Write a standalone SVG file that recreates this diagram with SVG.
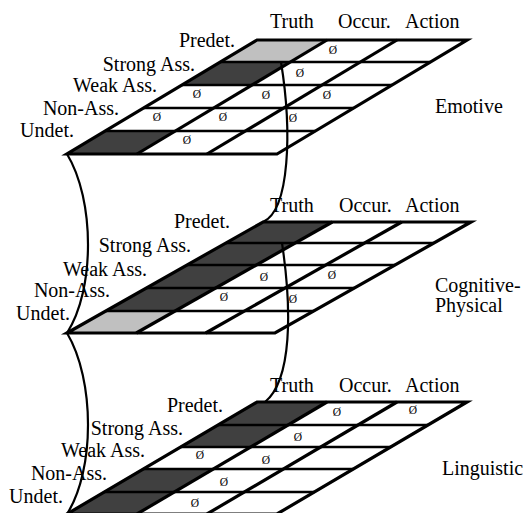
<svg xmlns="http://www.w3.org/2000/svg" width="528" height="513" viewBox="0 0 528 513">
<style>
.bg{fill:#ffffff}
.frame{fill:none;stroke:#000;stroke-width:3.2;stroke-linejoin:miter}
.h{stroke:#000;stroke-width:2.7;fill:none}
.d{stroke:#000;stroke-width:3.2;fill:none}
.dk{fill:#404040;stroke:none}
.lt{fill:#c0c0c0;stroke:none}
.cv{fill:none;stroke:#000;stroke-width:2.2}
text{font-family:"Liberation Serif","Times New Roman",serif;fill:#000}
.lab{font-size:20px}
.row{font-size:20px;text-anchor:end}
.e{font-size:11.5px;text-anchor:middle}
</style>
<rect class="bg" x="0" y="0" width="528" height="513"/>

<g id="emotive">
  <polygon class="lt" points="257,40 327,40 290.3,62 220.3,62"/>
  <polygon class="dk" points="220.3,62 290.3,62 252,85 182,85"/>
  <polygon class="dk" points="105.3,131 175.3,131 137,154 67,154"/>
  <line class="h" x1="220.3" y1="62" x2="430.3" y2="62"/>
  <line class="h" x1="182" y1="85" x2="392" y2="85"/>
  <line class="h" x1="143.7" y1="108" x2="353.7" y2="108"/>
  <line class="h" x1="105.3" y1="131" x2="315.3" y2="131"/>
  <line class="d" x1="327" y1="40" x2="137" y2="154"/>
  <line class="d" x1="397" y1="40" x2="207" y2="154"/>
  <polygon class="frame" points="257,40 467,40 277,154 67,154"/>
  <text class="e" x="333" y="54">Ø</text>
  <text class="e" x="300" y="77">Ø</text>
  <text class="e" x="197" y="98">Ø</text>
  <text class="e" x="266" y="99">Ø</text>
  <text class="e" x="327" y="99">Ø</text>
  <text class="e" x="157" y="121">Ø</text>
  <text class="e" x="223" y="121">Ø</text>
  <text class="e" x="293" y="122">Ø</text>
  <text class="e" x="187" y="144">Ø</text>
  <text class="lab" x="270" y="28">Truth</text>
  <text class="lab" x="338" y="28">Occur.</text>
  <text class="lab" x="405" y="28">Action</text>
  <text class="row" x="235" y="47">Predet.</text>
  <text class="row" x="195" y="71">Strong Ass.</text>
  <text class="row" x="157" y="92">Weak Ass.</text>
  <text class="row" x="119" y="115">Non-Ass.</text>
  <text class="row" x="74" y="137">Undet.</text>
  <text class="lab" x="435" y="113">Emotive</text>
</g>

<g id="cognitive-physical">
  <polygon class="dk" points="263,222 332.3,222 175.2,311 105.9,311"/>
  <polygon class="lt" points="105.9,311 175.2,311 136.3,333 67,333"/>
  <line class="h" x1="225.9" y1="243" x2="433.9" y2="243"/>
  <line class="h" x1="187.1" y1="265" x2="395.1" y2="265"/>
  <line class="h" x1="146.5" y1="288" x2="354.5" y2="288"/>
  <line class="h" x1="105.9" y1="311" x2="313.9" y2="311"/>
  <line class="d" x1="332.3" y1="222" x2="136.3" y2="333"/>
  <line class="d" x1="401.7" y1="222" x2="205.7" y2="333"/>
  <polygon class="frame" points="263,222 471,222 275,333 67,333"/>
  <text class="e" x="264" y="281">Ø</text>
  <text class="e" x="332" y="279">Ø</text>
  <text class="e" x="224" y="301">Ø</text>
  <text class="e" x="293" y="303">Ø</text>
  <text class="lab" x="270" y="212">Truth</text>
  <text class="lab" x="339" y="212">Occur.</text>
  <text class="lab" x="405" y="212">Action</text>
  <text class="row" x="230" y="228">Predet.</text>
  <text class="row" x="191" y="252">Strong Ass.</text>
  <text class="row" x="147" y="276">Weak Ass.</text>
  <text class="row" x="110" y="297">Non-Ass.</text>
  <text class="row" x="70" y="320">Undet.</text>
  <text class="lab" x="435" y="292">Cognitive-</text>
  <text class="lab" x="435" y="312">Physical</text>
</g>

<g id="linguistic">
  <polygon class="dk" points="257,402 327,402 250.7,447 180.7,447"/>
  <polygon class="dk" points="143.3,469 213.3,469 137,514 67,514"/>
  <line class="h" x1="218" y1="425" x2="428" y2="425"/>
  <line class="h" x1="180.7" y1="447" x2="390.7" y2="447"/>
  <line class="h" x1="143.3" y1="469" x2="353.3" y2="469"/>
  <line class="h" x1="104.3" y1="492" x2="314.3" y2="492"/>
  <line class="d" x1="327" y1="402" x2="137" y2="514"/>
  <line class="d" x1="397" y1="402" x2="207" y2="514"/>
  <polygon class="frame" points="257,402 467,402 277,514 67,514"/>
  <text class="e" x="337" y="416">Ø</text>
  <text class="e" x="413" y="414">Ø</text>
  <text class="e" x="298" y="441">Ø</text>
  <text class="e" x="200" y="459">Ø</text>
  <text class="e" x="266" y="464">Ø</text>
  <text class="e" x="224" y="486">Ø</text>
  <text class="e" x="195" y="507">Ø</text>
  <text class="lab" x="270" y="392">Truth</text>
  <text class="lab" x="339" y="392">Occur.</text>
  <text class="lab" x="405" y="392">Action</text>
  <text class="row" x="223" y="412">Predet.</text>
  <text class="row" x="183" y="435">Strong Ass.</text>
  <text class="row" x="145" y="457">Weak Ass.</text>
  <text class="row" x="107" y="480">Non-Ass.</text>
  <text class="row" x="63" y="503">Undet.</text>
  <text class="lab" x="442" y="475">Linguistic</text>
</g>

<g id="connectors">
  <path class="cv" d="M67,154 C95,200 95,290 67,333"/>
  <path class="cv" d="M67,333 C95,380 95,470 67,514"/>
  <path class="cv" d="M281,62 C292,130 290,210 263,222"/>
  <path class="cv" d="M282,243 C292,310 292,380 265,402"/>
</g>
</svg>
